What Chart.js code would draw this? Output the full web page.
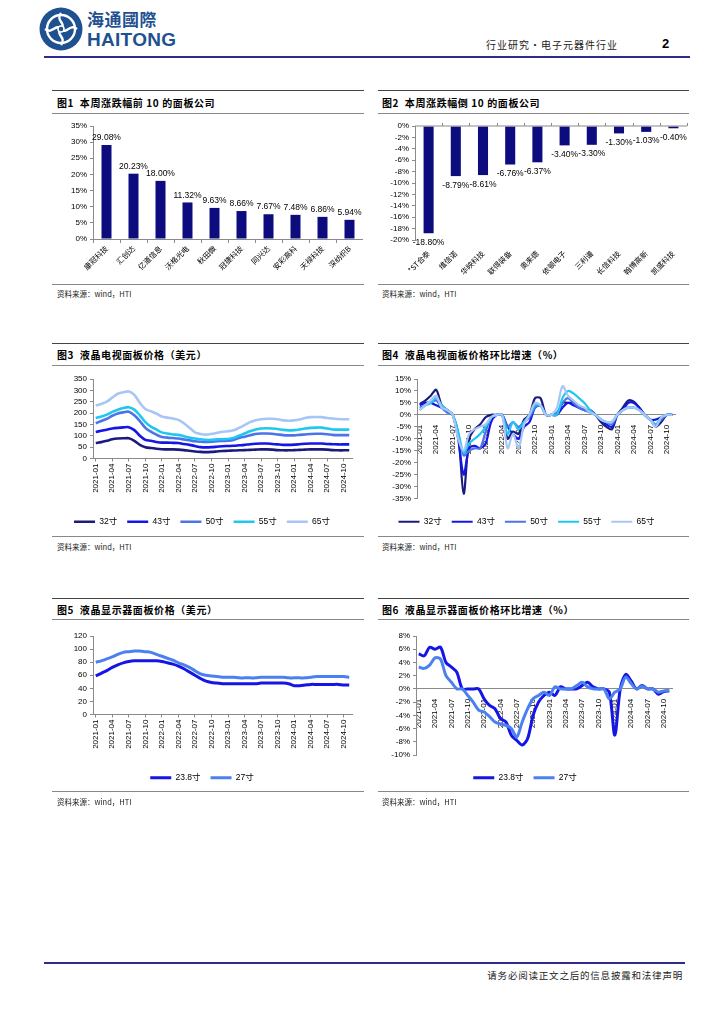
<!DOCTYPE html>
<html>
<head>
<meta charset="utf-8">
<script src="https://cdn.jsdelivr.net/npm/chart.js@4.4.1/dist/chart.umd.min.js"></script>
<style>
  body { margin: 0; width: 724px; height: 1024px; background: #fff; position: relative; overflow: hidden; font-family: "Liberation Sans", Arial, sans-serif; }
  .abs { position: absolute; }
  .rule { position: absolute; height: 0; }
  .ttl { position: absolute; font-family: "Noto Sans CJK SC", sans-serif; font-weight: 700; font-size: 10px; letter-spacing: 0.6px; line-height: 12px; color: #000; white-space: nowrap; }
  .src { position: absolute; font-family: "Noto Sans CJK SC", sans-serif; font-size: 7.5px; line-height: 9px; color: #222; white-space: nowrap; }
  canvas { position: absolute; }
</style>
</head>
<body>

<!-- header -->
<svg class="abs" style="left:39px;top:7px" width="44" height="44" viewBox="0 0 44 44">
  <circle cx="22" cy="22" r="21.5" fill="#1f5190"/>
  <circle cx="22" cy="22" r="14" fill="none" stroke="#fff" stroke-width="2.4"/>
  <path d="M22 6 C16 14 28 16 22 22 C16 28 28 30 22 38" fill="none" stroke="#fff" stroke-width="2.4"/>
  <path d="M6 22 C14 28 16 16 22 22 C28 28 30 16 38 22" fill="none" stroke="#fff" stroke-width="2.4"/>
  <circle cx="22" cy="22" r="3" fill="#1f5190" stroke="#fff" stroke-width="1.5"/>
</svg>
<div class="abs" style="left:87px;top:8px;font-family:'Noto Sans CJK SC';font-weight:700;font-size:17px;line-height:22px;color:#1f5190;letter-spacing:0.5px">海通國際</div>
<div class="abs" style="left:87px;top:30px;font-family:'Liberation Sans Narrow','Liberation Sans';font-weight:700;font-size:19px;line-height:20px;color:#1f5190;letter-spacing:0.3px">HAITONG</div>
<div class="abs" style="left:486px;top:38px;font-family:'Noto Sans CJK SC';font-size:10px;line-height:14px;color:#222;letter-spacing:1px">行业研究•电子元器件行业</div>
<div class="abs" style="left:662px;top:36px;font-weight:700;font-size:13px;line-height:15px;color:#000">2</div>
<div class="rule" style="left:44px;top:56px;width:646px;border-top:2px solid #2e2a8e"></div>

<!-- panel 1 / 2 -->
<div class="rule" style="left:52px;top:90px;width:312px;border-top:1.5px solid #444"></div>
<div class="rule" style="left:378px;top:90px;width:311px;border-top:1.5px solid #444"></div>
<div class="ttl" style="left:57px;top:97px">图1&nbsp;&nbsp;本周涨跌幅前 10 的面板公司</div>
<div class="ttl" style="left:382px;top:97px">图2&nbsp;&nbsp;本周涨跌幅倒 10 的面板公司</div>
<div class="rule" style="left:52px;top:113px;width:312px;border-top:1px solid #888"></div>
<div class="rule" style="left:378px;top:113px;width:311px;border-top:1px solid #888"></div>
<canvas id="c1" width="311" height="167" style="left:52px;top:116px;width:311px;height:167px"></canvas>
<canvas id="c2" width="311" height="167" style="left:378px;top:116px;width:311px;height:167px"></canvas>
<div class="rule" style="left:52px;top:284px;width:312px;border-top:1.5px solid #888"></div>
<div class="rule" style="left:378px;top:284px;width:311px;border-top:1.5px solid #888"></div>
<div class="src" style="left:57px;top:289px">资料来源：wind，HTI</div>
<div class="src" style="left:382px;top:289px">资料来源：wind，HTI</div>

<!-- panel 3 / 4 -->
<div class="rule" style="left:52px;top:343px;width:312px;border-top:1.5px solid #444"></div>
<div class="rule" style="left:378px;top:343px;width:311px;border-top:1.5px solid #444"></div>
<div class="ttl" style="left:57px;top:349px">图3&nbsp;&nbsp;液晶电视面板价格（美元）</div>
<div class="ttl" style="left:382px;top:349px">图4&nbsp;&nbsp;液晶电视面板价格环比增速（%）</div>
<div class="rule" style="left:52px;top:365px;width:312px;border-top:1px solid #888"></div>
<div class="rule" style="left:378px;top:365px;width:311px;border-top:1px solid #888"></div>
<canvas id="c3" width="311" height="168" style="left:52px;top:368px;width:311px;height:168px"></canvas>
<canvas id="c4" width="311" height="168" style="left:378px;top:368px;width:311px;height:168px"></canvas>
<div class="rule" style="left:52px;top:536px;width:312px;border-top:1.5px solid #888"></div>
<div class="rule" style="left:378px;top:536px;width:311px;border-top:1.5px solid #888"></div>
<div class="src" style="left:57px;top:542px">资料来源：wind，HTI</div>
<div class="src" style="left:382px;top:542px">资料来源：wind，HTI</div>

<!-- panel 5 / 6 -->
<div class="rule" style="left:52px;top:598px;width:312px;border-top:1.5px solid #444"></div>
<div class="rule" style="left:378px;top:598px;width:311px;border-top:1.5px solid #444"></div>
<div class="ttl" style="left:57px;top:604px">图5&nbsp;&nbsp;液晶显示器面板价格（美元）</div>
<div class="ttl" style="left:382px;top:604px">图6&nbsp;&nbsp;液晶显示器面板价格环比增速（%）</div>
<div class="rule" style="left:52px;top:619px;width:312px;border-top:1px solid #888"></div>
<div class="rule" style="left:378px;top:619px;width:311px;border-top:1px solid #888"></div>
<canvas id="c5" width="311" height="170" style="left:52px;top:622px;width:311px;height:170px"></canvas>
<canvas id="c6" width="311" height="170" style="left:378px;top:622px;width:311px;height:170px"></canvas>
<div class="rule" style="left:52px;top:791px;width:312px;border-top:1.5px solid #888"></div>
<div class="rule" style="left:378px;top:791px;width:311px;border-top:1.5px solid #888"></div>
<div class="src" style="left:57px;top:797px">资料来源：wind，HTI</div>
<div class="src" style="left:382px;top:797px">资料来源：wind，HTI</div>

<!-- footer -->
<div class="rule" style="left:44px;top:962px;width:641px;border-top:2px solid #2e2a8e"></div>
<div class="abs" style="right:41px;top:969px;font-family:'Noto Sans CJK SC';font-size:9.5px;line-height:12px;color:#222;letter-spacing:0.8px">请务必阅读正文之后的信息披露和法律声明</div>

<script>
// fig 1 / fig 2: weekly change of panel stocks (%)
const topNames = ["康冠科技", "汇创达", "亿道信息", "沃格光电", "秋田微", "冠捷科技", "同兴达", "安彩高科", "天禄科技", "深纺织B"];
const topChg = [29.08, 20.23, 18.00, 11.32, 9.63, 8.66, 7.67, 7.48, 6.86, 5.94];
const bottomNames = ["*ST合泰", "维信诺", "华映科技", "联得装备", "奥来德", "依顿电子", "三利谱", "长信科技", "翰博高新", "凯盛科技"];
const bottomChg = [-18.80, -8.79, -8.61, -6.76, -6.37, -3.40, -3.30, -1.30, -1.03, -0.40];

// monthly axis, 2021-01 .. 2024-11
const months = [
  "2021-01", "2021-02", "2021-03", "2021-04", "2021-05", "2021-06", "2021-07", "2021-08", "2021-09", "2021-10", "2021-11", "2021-12",
  "2022-01", "2022-02", "2022-03", "2022-04", "2022-05", "2022-06", "2022-07", "2022-08", "2022-09", "2022-10", "2022-11", "2022-12",
  "2023-01", "2023-02", "2023-03", "2023-04", "2023-05", "2023-06", "2023-07", "2023-08", "2023-09", "2023-10", "2023-11", "2023-12",
  "2024-01", "2024-02", "2024-03", "2024-04", "2024-05", "2024-06", "2024-07", "2024-08", "2024-09", "2024-10", "2024-11"
];

// fig 3: TV panel prices (USD)
const tvNames = ["32寸", "43寸", "50寸", "55寸", "65寸"];
const tv32 = [68, 72, 78, 85, 88, 89, 89, 78, 60, 50, 46, 43, 41, 40, 40, 39, 37, 34, 31, 29, 28, 29, 31, 33, 34, 35, 36, 37, 38, 39, 40, 40, 39, 37, 36, 36, 37, 38, 39, 40, 40, 40, 39, 37, 36, 36, 36];
const tv43 = [117, 122, 127, 132, 135, 137, 138, 125, 100, 82, 78, 73, 70, 70, 69, 68, 64, 60, 55, 50, 49, 50, 52, 54, 55, 56, 58, 60, 63, 65, 66, 66, 64, 62, 60, 60, 61, 63, 65, 66, 66, 66, 64, 63, 62, 62, 62];
const tv50 = [155, 165, 175, 188, 198, 203, 206, 190, 165, 135, 118, 105, 95, 92, 90, 88, 84, 80, 76, 74, 73, 74, 76, 77, 78, 82, 90, 96, 102, 108, 110, 110, 109, 106, 103, 102, 102, 104, 106, 108, 109, 109, 107, 104, 103, 103, 103];
const tv55 = [178, 185, 193, 205, 215, 222, 226, 215, 190, 160, 140, 128, 115, 110, 106, 104, 98, 92, 88, 85, 82, 82, 84, 85, 86, 90, 100, 110, 120, 128, 132, 133, 132, 130, 126, 124, 125, 128, 132, 135, 136, 136, 132, 128, 127, 127, 127];
const tv65 = [233, 240, 250, 268, 285, 292, 295, 280, 245, 218, 208, 198, 185, 180, 176, 170, 155, 135, 115, 108, 105, 108, 113, 118, 120, 124, 135, 147, 160, 168, 173, 175, 175, 173, 168, 166, 168, 172, 178, 182, 183, 182, 178, 176, 174, 173, 173];

// fig 4: TV panel price MoM (%)
const mom32 = [4.5, 6, 8, 10.5, 4, 2, 0, -8, -33, -10, -6, -4, -1, 0, 0, 0, -10, -7, -8, -2, 0, 7, 7, 0, 0, 0, 5, 5, 5, 3, 2, 2, 0, -3, -5, -6, 0, 3, 6, 5.5, 3, 0, -2, -5, -3, 0, 0];
const mom43 = [4, 5, 5, 4, 3, 2, 0, -10, -25, -14, -13, -14, -12, -3, 0, 0, -5, -8, -10, -5, -3, 3, 4, 0, 0, 0, 3, 5, 4, 3, 2, 2, 0, -2, -4, -5, 0, 2, 5, 5, 3, 0, -2, -2, -1, 0, 0];
const mom50 = [3, 4, 5, 6, 3, 1, 0, -8, -17, -15, -14, -14, -7, -1, 0, 0, -5, -3, -5, -3, -1, 3, 4, 0, 0, 1, 5, 7, 5, 3, 2, 1, 0, -2, -3, -4, 0, 2, 3, 3, 2, 0, -2, -4, -2, 0, 0];
const mom55 = [2, 4, 5, 7, 4, 2, 0, -7, -16, -12, -10, -8, -5, -1, 0, 0, -8, -3, -6, -3, 0, 4, 4, 0, 0, 0, 7, 10, 9, 7, 5, 2, 0, -2, -3, -3, 0, 2, 3, 3, 2, 0, -2, -4, -1, 0, 0];
const mom65 = [2, 4, 6, 8, 3, 2, 0, -10, -15, -8, -6, -5, -4, -1, 0, 0, -14, -8, -14, -4, 0, 5, 4, 0, 0, 3, 12, 8, 6, 4, 3, 1, 0, -2, -3, -3, 0, 2, 3, 3, 2, 0, -2, -5, -1, 0, 0];

// fig 5: monitor panel prices (USD)
const monNames = ["23.8寸", "27寸"];
const mon238 = [59, 63, 67, 72, 76, 79, 81, 82, 82, 82, 82, 82, 81, 79, 77, 74, 70, 65, 60, 55, 51, 49, 48, 47, 47, 47, 47, 47, 47, 47, 48, 48, 48, 48, 48, 47, 44, 44, 45, 46, 46, 46, 46, 46, 46, 45, 45];
const mon27 = [80, 82, 85, 88, 92, 95, 96, 97, 97, 96, 95, 92, 89, 86, 83, 79, 76, 72, 67, 62, 60, 59, 58, 57, 57, 57, 56, 56, 56, 56, 57, 57, 57, 57, 57, 56, 56, 56, 56, 57, 58, 58, 58, 58, 58, 58, 57];

// fig 6: monitor panel price MoM (%)
const monMom238 = [5.3, 5.0, 6.3, 6.0, 6.3, 4.0, 3.3, 2.5, 0, 0, 0, 0, -1.5, -2.5, -3, -4.5, -5, -7, -7.8, -8.5, -7.5, -4, -2, -1, -0.5, -1, 0.3, 0, 0, 0, 0.5, 1, 0.3, 0, 0, -0.5, -7, 0, 2.2, 1.2, 0, 0.5, 0, 0, -0.8, -0.4, -0.3];
const monMom27 = [3.3, 3.1, 3.6, 4.7, 4.5, 2.0, 1.0, 0, 0, -1, -2, -3.2, -3.5, -4.2, -5, -5.3, -5.5, -6, -7.3, -5, -3, -1.5, -1, -0.5, -1, 0.3, 0, 0, 0, 0.5, 1, 0.3, 0, 0, 0, -1.5, -0.5, 0, 1.8, 0.8, 0, 0.4, 0, 0, -0.5, -0.3, -0.3];

const FONT = '"Liberation Sans", Arial, "Noto Sans CJK SC", sans-serif';
const CJK = '"Noto Sans CJK SC", sans-serif';
const AXIS = "#8a8a8a";
const NAVY = "#0c0c7e";

Chart.defaults.font.family = FONT;
Chart.defaults.font.size = 8;
Chart.defaults.color = "#000";
Chart.defaults.animation = false;

// value labels on the bars (above for gains, below for losses)
const barLabels = {
  id: "barLabels",
  afterDatasetsDraw(chart) {
    const ctx = chart.ctx;
    const vals = chart.data.datasets[0].data;
    ctx.save();
    ctx.font = "8.5px " + FONT;
    ctx.fillStyle = "#000";
    ctx.textAlign = "center";
    chart.getDatasetMeta(0).data.forEach((bar, i) => {
      const txt = vals[i].toFixed(2) + "%";
      if (vals[i] >= 0) {
        ctx.textBaseline = "bottom";
        ctx.fillText(txt, bar.x, bar.y - 3);
      } else {
        ctx.textBaseline = "top";
        ctx.fillText(txt, bar.x, bar.y + 5);
      }
    });
    ctx.restore();
  }
};

// zero line with small category ticks for the loss chart
const zeroLine = {
  id: "zeroLine",
  afterDatasetsDraw(chart) {
    const ctx = chart.ctx;
    const xs = chart.scales.x;
    const y0 = chart.scales.y.getPixelForValue(0);
    const step = xs.width / xs.ticks.length;
    ctx.save();
    ctx.strokeStyle = AXIS;
    ctx.lineWidth = 1;
    ctx.beginPath();
    ctx.moveTo(xs.left, y0);
    ctx.lineTo(xs.right, y0);
    for (let i = 1; i <= xs.ticks.length; i++) {
      const px = Math.round(xs.left + i * step) + 0.5;
      ctx.moveTo(px, y0);
      ctx.lineTo(px, y0 - 3);
    }
    ctx.stroke();
    ctx.restore();
  }
};

function barChart(id, names, values, opts) {
  return new Chart(document.getElementById(id), {
    type: "bar",
    data: {
      labels: names,
      datasets: [{ data: values, backgroundColor: NAVY, barPercentage: 0.37, categoryPercentage: 1 }]
    },
    options: {
      responsive: false,
      layout: { padding: { top: 10, right: opts.padRight, left: 0, bottom: 0 } },
      plugins: { legend: { display: false }, tooltip: { enabled: false } },
      scales: {
        x: {
          grid: opts.gridX,
          border: { display: opts.borderX, color: AXIS },
          ticks: { font: { family: CJK, size: 7.5 }, minRotation: 45, maxRotation: 45, autoSkip: false, padding: 1 },
          afterFit: s => { s.height = opts.xH; }
        },
        y: {
          min: opts.min, max: opts.max,
          ticks: { stepSize: opts.step, autoSkip: false, callback: v => v + "%", padding: 3 },
          grid: { drawOnChartArea: false, tickLength: 3, color: AXIS },
          border: { color: AXIS },
          afterFit: s => { s.width = opts.yW; }
        }
      }
    },
    plugins: opts.plugins
  });
}

barChart("c1", topNames, topChg, {
  min: 0, max: 35, step: 5, yW: 41, xH: 44, padRight: 0, borderX: true,
  gridX: { display: true, drawOnChartArea: false, offset: true, tickLength: 4, color: AXIS },
  plugins: [barLabels]
});
barChart("c2", bottomNames, bottomChg, {
  min: -20, max: 0, step: 2, yW: 37, xH: 43, padRight: 2, borderX: false,
  gridX: { display: false },
  plugins: [zeroLine, barLabels]
});

function lineChart(id, names, series, colors, o) {
  const n = series.length;
  const scales = {
    x: {
      offset: true,
      grid: o.xAtZero ? { display: false } : { display: true, drawOnChartArea: false, tickLength: 3, color: AXIS },
      border: { color: AXIS },
      ticks: {
        autoSkip: false, minRotation: 90, maxRotation: 90, padding: 2,
        callback: function (v, i) { return i % 3 === 0 ? this.getLabelForValue(v) : null; }
      }
    },
    y: {
      min: o.min, max: o.max,
      ticks: { stepSize: o.step, autoSkip: false, padding: 3, callback: v => v + o.unit },
      grid: { drawOnChartArea: false, tickLength: 3, color: AXIS },
      border: { color: AXIS },
      afterFit: s => { s.width = o.yW; }
    }
  };
  if (o.xAtZero) {
    scales.x.position = { y: 0 };
    scales.xpad = {
      type: "category", position: "bottom",
      grid: { display: false }, border: { display: false }, ticks: { display: false },
      afterFit: s => { s.height = o.xH; }
    };
  } else {
    scales.x.afterFit = s => { s.height = o.xH; };
  }
  return new Chart(document.getElementById(id), {
    type: "line",
    data: {
      labels: months,
      datasets: series.map((d, i) => ({
        label: names[i], data: d, borderColor: colors[i], backgroundColor: colors[i],
        borderWidth: o.lw, pointRadius: 0, tension: 0.3, order: n - 1 - i
      }))
    },
    options: {
      responsive: false,
      layout: { padding: { top: o.padTop, right: o.padRight, left: 0, bottom: 0 } },
      plugins: {
        tooltip: { enabled: false },
        legend: {
          position: "bottom",
          labels: {
            usePointStyle: true, pointStyle: "line", pointStyleWidth: 21, padding: 10,
            font: { family: FONT, size: 8.5 }, color: "#000",
            sort: (a, b) => a.datasetIndex - b.datasetIndex
          }
        }
      },
      scales
    }
  });
}

const tvColors = ["#1b1b7d", "#1515e6", "#4a74e8", "#20c6f2", "#a8c6f5"];
const monColors = ["#1515e6", "#4b80f0"];

lineChart("c3", tvNames, [tv32, tv43, tv50, tv55, tv65], tvColors,
  { min: 0, max: 350, step: 50, unit: "", yW: 41, xH: 49, padTop: 11, padRight: 11, lw: 2.6 });
lineChart("c4", tvNames, [mom32, mom43, mom50, mom55, mom65], tvColors,
  { min: -35, max: 15, step: 5, unit: "%", yW: 39, xH: 9, padTop: 11, padRight: 14, lw: 2.2, xAtZero: true });
lineChart("c5", monNames, [mon238, mon27], monColors,
  { min: 0, max: 120, step: 20, unit: "", yW: 41, xH: 49, padTop: 14, padRight: 11, lw: 3 });
lineChart("c6", monNames, [monMom238, monMom27], monColors,
  { min: -10, max: 8, step: 2, unit: "%", yW: 38, xH: 8.5, padTop: 14, padRight: 17, lw: 3, xAtZero: true });
</script>
</body>
</html>
